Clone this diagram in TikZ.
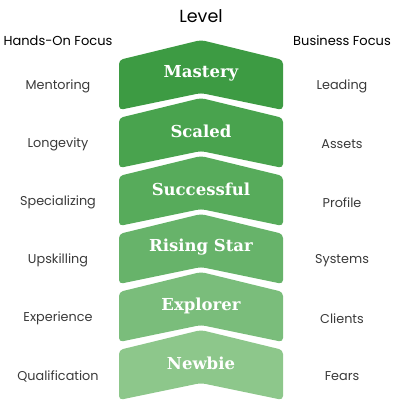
\documentclass[tikz,border=0pt]{standalone}
\usepackage{fontspec}
\setmainfont{Poppins}
\newfontfamily\titlefont{DejaVu Serif}
\definecolor{lvlA}{HTML}{3D9B43}
\definecolor{lvlB}{HTML}{49A34E}
\definecolor{lvlC}{HTML}{57AB5B}
\definecolor{lvlD}{HTML}{67B36A}
\definecolor{lvlE}{HTML}{7ABD7B}
\definecolor{lvlF}{HTML}{8DC78B}
\definecolor{labelgray}{HTML}{3A3A3A}

\begin{document}
\begin{tikzpicture}[x=1pt,y=-1pt]
\tikzstyle{chev}=[rounded corners=4pt]
\tikzstyle{title}=[text=white,font=\titlefont\bfseries\fontsize{16.5}{19}\selectfont]
\tikzstyle{side}=[text=labelgray,font=\fontsize{12.8}{15}\selectfont]
\tikzstyle{head}=[font=\fontsize{13}{15}\selectfont]
\useasboundingbox (0,0) rectangle (400,411);
\node[font=\fontsize{17.5}{20}\selectfont] (level) at (201,16) {Level};
\node[head] (handshead) at (58,41) {Hands-On Focus};
\node[head] (bizhead) at (342,41) {Business Focus};
% one chevron per level, top to bottom
\foreach \t/\c/\name/\lft/\rgt [count=\i] in {
  40/lvlA/Mastery/Mentoring/Leading,
  98/lvlB/Scaled/Longevity/Assets,
  156/lvlC/Successful/Specializing/Profile,
  214/lvlD/Rising Star/Upskilling/Systems,
  272/lvlE/Explorer/Experience/Clients,
  330/lvlF/Newbie/Qualification/Fears}
{
  \fill[chev,\c] (119,\t+20) -- (201,\t) -- (283,\t+20) -- (283,\t+70)
    -- (201,\t+53) -- (119,\t+70) -- cycle;
  \node[title] (lvl\i) at (201,\t+33.5) {\name};
  \node[side] (hands\i) at (58,\t+46.5) {\lft};
  \node[side] (biz\i) at (342,\t+46.5) {\rgt};
}
\end{tikzpicture}
\end{document}
